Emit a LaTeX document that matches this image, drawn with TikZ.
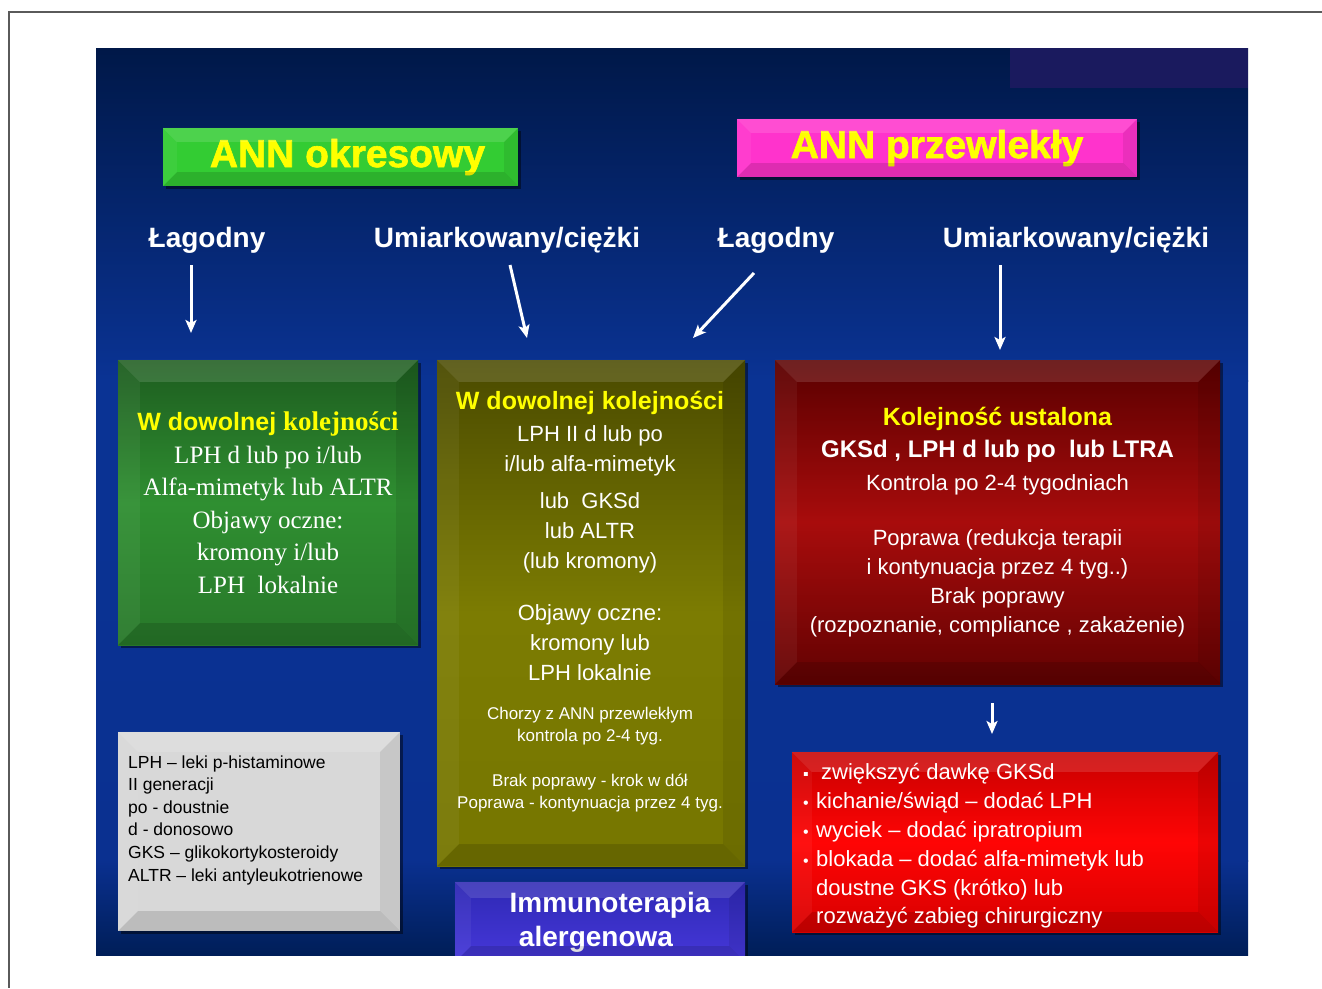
\documentclass[tikz,border=0pt]{standalone}
\usepackage{fontspec}
\setmainfont{Liberation Sans}
\newfontfamily\sansff{Liberation Sans}
\newfontfamily\serifff{Liberation Serif}
\newfontfamily\heavyff{Liberation Sans Bold}[FakeBold=1.6]
\usetikzlibrary{arrows.meta,shadows,calc}

\definecolor{bgtop}{HTML}{001848}
\definecolor{bgmid}{HTML}{0A3394}
\definecolor{bglow}{HTML}{0A3090}
\definecolor{bgbot}{HTML}{001E58}
\definecolor{topband}{HTML}{1A1A5E}
\definecolor{ty}{HTML}{FFFF00}
\definecolor{framegray}{HTML}{5A5A5A}
\definecolor{hgreen}{HTML}{33CC33}
\definecolor{hmagenta}{HTML}{FF33CC}
\definecolor{gtop}{HTML}{1D5C1F}
\definecolor{gmid}{HTML}{2F8F31}
\definecolor{gbot}{HTML}{28782A}
\definecolor{otop}{HTML}{4A4A00}
\definecolor{omid}{HTML}{7C7C02}
\definecolor{obot}{HTML}{767600}
\definecolor{rtop}{HTML}{5A0000}
\definecolor{rmid}{HTML}{A80C0C}
\definecolor{rbot}{HTML}{620202}
\definecolor{btop}{HTML}{C80000}
\definecolor{bmid}{HTML}{FF0505}
\definecolor{bbot}{HTML}{D80000}
\definecolor{itop}{HTML}{2E28B4}
\definecolor{ibot}{HTML}{4638DA}
\definecolor{lgray}{HTML}{D8D8D8}

\newcommand\mybevel[2]{%
  \fill[white,opacity=0.13] (#1.north west) -- (#1.north east) -- ([shift={(-#2,#2)}]#1.north east) -- ([shift={(#2,#2)}]#1.north west) -- cycle;
  \fill[white,opacity=0.05] (#1.north west) -- ([shift={(#2,#2)}]#1.north west) -- ([shift={(#2,-#2)}]#1.south west) -- (#1.south west) -- cycle;
  \fill[black,opacity=0.08] (#1.north east) -- ([shift={(-#2,#2)}]#1.north east) -- ([shift={(-#2,-#2)}]#1.south east) -- (#1.south east) -- cycle;
  \fill[black,opacity=0.13] (#1.south west) -- ([shift={(#2,-#2)}]#1.south west) -- ([shift={(-#2,-#2)}]#1.south east) -- (#1.south east) -- cycle;
}

\begin{document}
\begin{tikzpicture}[x=1pt,y=-1pt,
  box/.style={rectangle, inner sep=0pt, draw=none,
    drop shadow={shadow xshift=3pt, shadow yshift=-3pt, opacity=0.45, fill=black}},
  header/.style={box, text=ty, font=\heavyff\fontsize{39}{48}\selectfont},
  sev/.style={text=white, font=\bfseries\fontsize{28}{34}\selectfont, inner sep=0pt},
  arr/.style={draw=white, line width=3pt, -{Stealth[length=13pt,width=11pt,inset=3pt]}},
  body/.style={text=white, align=center, inner sep=0pt}
]
\useasboundingbox (0,0) rectangle (1322,988);
\fill[white] (0,0) rectangle (1322,988);
\draw[framegray, line width=1.6pt] (1322,12) -- (9,12) -- (9,988);

% slide background
\shade[top color=bgtop, bottom color=bgmid] (96,48) rectangle (1248,381);
\shade[top color=bgmid, bottom color=bglow] (96,380) rectangle (1248,861);
\shade[top color=bglow, bottom color=bgbot] (96,860) rectangle (1248,955);
\fill[topband] (1010,48) rectangle (1248,88);

\begin{scope}
\clip (96,48) rectangle (1248,955);

% headers
\node[header, fill=hgreen, minimum width=355pt, minimum height=58pt] (hok) at (340.5,157) {\hspace*{14pt}ANN okresowy};
\mybevel{hok}{14}
\node[header, fill=hmagenta, minimum width=400pt, minimum height=58pt] (hpr) at (937,148) {ANN przewlekły};
\mybevel{hpr}{14}

% severity labels
\node[sev] (lag1) at (207,240) {Łagodny};
\node[sev] (um1) at (507,240) {Umiarkowany/ciężki};
\node[sev] (lag2) at (776,240) {Łagodny};
\node[sev] (um2) at (1076,240) {Umiarkowany/ciężki};

% green box
\node[box, top color=gtop, bottom color=gbot, middle color=gmid,
      minimum width=300pt, minimum height=285pt, body,
      font=\serifff\fontsize{25}{32.5}\selectfont] (green) at (268,502.5)
  {{\color{ty}\sansff\bfseries\fontsize{25}{32.5}\selectfont W dowolnej }{\color{ty}\bfseries\fontsize{27}{32.5}\selectfont kolejności}\\
   LPH d lub po i/lub\\
   Alfa-mimetyk lub ALTR\\
   Objawy oczne:\\
   kromony i/lub\\
   LPH\ \ lokalnie};
\mybevel{green}{22}

% olive box
\node[box, top color=otop, bottom color=obot, middle color=omid,
      minimum width=308pt, minimum height=506pt] (olive) at (591,613) {};
\mybevel{olive}{22}
\node[body, font=\fontsize{22}{30}\selectfont] (olivetxt) at (590,536)
  {{\color{ty}\bfseries\fontsize{25}{30}\selectfont W dowolnej kolejności}\\[2pt]
   LPH II d lub po\\
   i/lub alfa-mimetyk\\[7pt]
   lub\ \ GKSd\\
   lub ALTR\\
   (lub kromony)\\[22pt]
   Objawy oczne:\\
   kromony lub\\
   LPH lokalnie};
\node[body, font=\fontsize{17}{22}\selectfont] (olivenote) at (590,760)
  {Chorzy z ANN przewlekłym\\
   kontrola po 2-4 tyg.\\[23pt]
   Brak poprawy - krok w dół\\
   Poprawa - kontynuacja przez 4 tyg.};

% dark red box
\node[box, top color=rtop, bottom color=rbot, middle color=rmid,
      minimum width=445pt, minimum height=324pt, body,
      font=\fontsize{22}{29}\selectfont] (red) at (997.5,522)
  {{\color{ty}\bfseries\fontsize{25}{29}\selectfont Kolejność ustalona}\\[3pt]
   {\bfseries\fontsize{24}{29}\selectfont GKSd , LPH d lub po\ \ lub LTRA}\\[4pt]
   Kontrola po 2-4 tygodniach\\[26pt]
   Poprawa (redukcja terapii\\
   i kontynuacja przez 4 tyg..)\\
   Brak poprawy\\
   (rozpoznanie, compliance , zakażenie)};
\mybevel{red}{22}

% legend box
\node[box, fill=lgray, minimum width=282pt, minimum height=199pt] (legend) at (259,831.5) {};
\mybevel{legend}{20}
\node[text=black, align=left, inner sep=0pt, anchor=west,
      font=\fontsize{17.5}{22.6}\selectfont] (legendtxt) at (128,820)
  {LPH – leki p-histaminowe\\
   II generacji\\
   po - doustnie\\
   d - donosowo\\
   GKS – glikokortykosteroidy\\
   ALTR – leki antyleukotrienowe};

% bright red box
\node[box, top color=btop, bottom color=bbot, middle color=bmid,
      minimum width=426pt, minimum height=180pt] (steps) at (1005,842) {};
\mybevel{steps}{20}
\node[text=white, align=left, inner sep=0pt, anchor=west,
      font=\fontsize{22}{28.8}\selectfont] (stepstxt) at (803,846)
  {\makebox[18pt][l]{\fontsize{16}{16}\selectfont ▪}zwiększyć dawkę GKSd\\
   \makebox[13pt][l]{\fontsize{16}{16}\selectfont •}kichanie/świąd – dodać LPH\\
   \makebox[13pt][l]{\fontsize{16}{16}\selectfont •}wyciek – dodać ipratropium\\
   \makebox[13pt][l]{\fontsize{16}{16}\selectfont •}blokada – dodać alfa-mimetyk lub\\
   \makebox[13pt][l]{}doustne GKS (krótko) lub\\
   \makebox[13pt][l]{}rozważyć zabieg chirurgiczny};

% immunotherapy box
\node[box, top color=itop, bottom color=ibot, minimum width=290pt, minimum height=80pt,
      body, font=\bfseries\fontsize{28}{34}\selectfont] (immuno) at (600,922)
  {\hspace*{20pt}Immunoterapia\\ alergenowa\hspace*{8pt}};
\mybevel{immuno}{16}

% arrows
\coordinate (a1s) at (191,265); \coordinate (a1e) at (191,333);
\coordinate (a2s) at (510,265); \coordinate (a2e) at (527,338);
\coordinate (a3s) at (754,273); \coordinate (a3e) at (693,338);
\coordinate (a4s) at (1000,265); \coordinate (a4e) at (1000,350);
\coordinate (a5s) at (992,703); \coordinate (a5e) at (992,734);
\draw[arr] (a1s) -- (a1e);
\draw[arr] (a2s) -- (a2e);
\draw[arr] (a3s) -- (a3e);
\draw[arr] (a4s) -- (a4e);
\draw[arr] (a5s) -- (a5e);
\end{scope}
\end{tikzpicture}
\end{document}
